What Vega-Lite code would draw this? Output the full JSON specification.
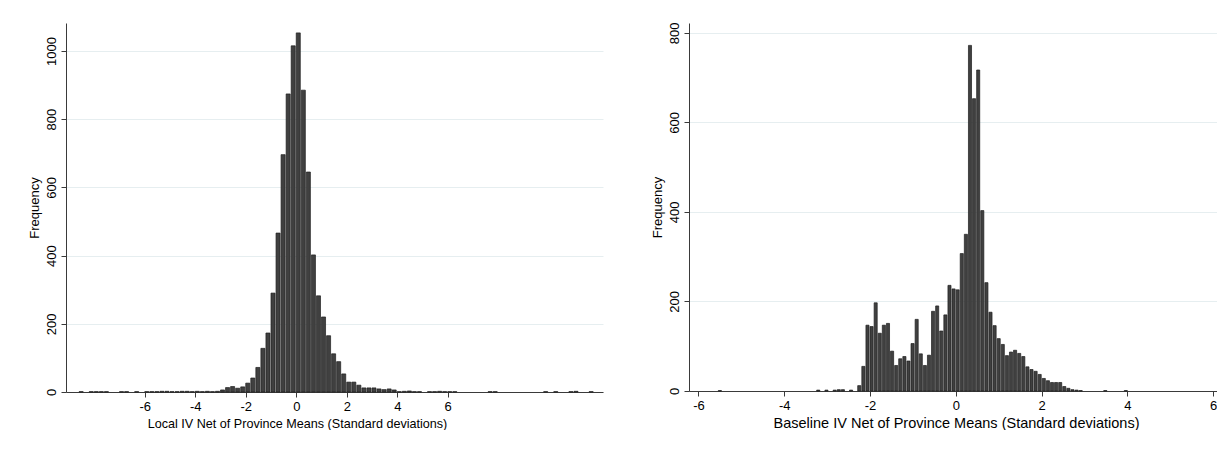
{
  "$schema": "https://vega.github.io/schema/vega-lite/v6.json",
  "background": "white",
  "padding": {"left": 28, "top": 22, "right": 0, "bottom": 0},
  "bounds": "flush",
  "spacing": 86,
  "datasets": {
    "local": [
      {"lo": -8.64, "hi": -8.44, "n": 1},
      {"lo": -8.24, "hi": -8.04, "n": 1},
      {"lo": -8.04, "hi": -7.84, "n": 1},
      {"lo": -7.84, "hi": -7.64, "n": 1},
      {"lo": -7.64, "hi": -7.44, "n": 1},
      {"lo": -7.04, "hi": -6.84, "n": 1},
      {"lo": -6.84, "hi": -6.64, "n": 1},
      {"lo": -6.44, "hi": -6.24, "n": 1},
      {"lo": -6.04, "hi": -5.84, "n": 1},
      {"lo": -5.84, "hi": -5.64, "n": 1},
      {"lo": -5.64, "hi": -5.44, "n": 1},
      {"lo": -5.44, "hi": -5.24, "n": 2},
      {"lo": -5.24, "hi": -5.04, "n": 2},
      {"lo": -5.04, "hi": -4.84, "n": 1},
      {"lo": -4.84, "hi": -4.64, "n": 1},
      {"lo": -4.64, "hi": -4.44, "n": 2},
      {"lo": -4.44, "hi": -4.24, "n": 2},
      {"lo": -4.24, "hi": -4.04, "n": 1},
      {"lo": -4.04, "hi": -3.84, "n": 2},
      {"lo": -3.84, "hi": -3.64, "n": 1},
      {"lo": -3.64, "hi": -3.44, "n": 2},
      {"lo": -3.44, "hi": -3.24, "n": 1},
      {"lo": -3.24, "hi": -3.04, "n": 2},
      {"lo": -3.04, "hi": -2.84, "n": 6},
      {"lo": -2.84, "hi": -2.64, "n": 13},
      {"lo": -2.64, "hi": -2.44, "n": 16},
      {"lo": -2.44, "hi": -2.24, "n": 11},
      {"lo": -2.24, "hi": -2.04, "n": 15},
      {"lo": -2.04, "hi": -1.84, "n": 26},
      {"lo": -1.84, "hi": -1.64, "n": 41},
      {"lo": -1.64, "hi": -1.44, "n": 72},
      {"lo": -1.44, "hi": -1.24, "n": 128},
      {"lo": -1.24, "hi": -1.04, "n": 173},
      {"lo": -1.04, "hi": -0.84, "n": 290},
      {"lo": -0.84, "hi": -0.64, "n": 466},
      {"lo": -0.64, "hi": -0.44, "n": 696},
      {"lo": -0.44, "hi": -0.24, "n": 874},
      {"lo": -0.24, "hi": -0.04, "n": 1015},
      {"lo": -0.04, "hi": 0.16, "n": 1053},
      {"lo": 0.16, "hi": 0.36, "n": 885},
      {"lo": 0.36, "hi": 0.56, "n": 645},
      {"lo": 0.56, "hi": 0.76, "n": 402},
      {"lo": 0.76, "hi": 0.96, "n": 282},
      {"lo": 0.96, "hi": 1.16, "n": 220},
      {"lo": 1.16, "hi": 1.36, "n": 165},
      {"lo": 1.36, "hi": 1.56, "n": 112},
      {"lo": 1.56, "hi": 1.76, "n": 89},
      {"lo": 1.76, "hi": 1.96, "n": 53},
      {"lo": 1.96, "hi": 2.16, "n": 29},
      {"lo": 2.16, "hi": 2.36, "n": 29},
      {"lo": 2.36, "hi": 2.56, "n": 20},
      {"lo": 2.56, "hi": 2.76, "n": 12},
      {"lo": 2.76, "hi": 2.96, "n": 12},
      {"lo": 2.96, "hi": 3.16, "n": 12},
      {"lo": 3.16, "hi": 3.36, "n": 9},
      {"lo": 3.36, "hi": 3.56, "n": 7},
      {"lo": 3.56, "hi": 3.76, "n": 9},
      {"lo": 3.76, "hi": 3.96, "n": 6},
      {"lo": 3.96, "hi": 4.16, "n": 1},
      {"lo": 4.16, "hi": 4.36, "n": 2},
      {"lo": 4.36, "hi": 4.56, "n": 3},
      {"lo": 4.56, "hi": 4.76, "n": 1},
      {"lo": 4.76, "hi": 4.96, "n": 1},
      {"lo": 5.16, "hi": 5.36, "n": 1},
      {"lo": 5.36, "hi": 5.56, "n": 1},
      {"lo": 5.56, "hi": 5.76, "n": 2},
      {"lo": 5.76, "hi": 5.96, "n": 1},
      {"lo": 5.96, "hi": 6.16, "n": 1},
      {"lo": 6.16, "hi": 6.36, "n": 1},
      {"lo": 7.56, "hi": 7.76, "n": 1},
      {"lo": 7.76, "hi": 7.96, "n": 1},
      {"lo": 9.76, "hi": 9.96, "n": 1},
      {"lo": 10.16, "hi": 10.36, "n": 1},
      {"lo": 10.76, "hi": 10.96, "n": 1},
      {"lo": 10.96, "hi": 11.16, "n": 2},
      {"lo": 11.56, "hi": 11.76, "n": 1}
    ],
    "baseline": [
      {"lo": -5.56, "hi": -5.464, "n": 1},
      {"lo": -3.266, "hi": -3.17, "n": 2},
      {"lo": -3.074, "hi": -2.979, "n": 2},
      {"lo": -2.883, "hi": -2.788, "n": 2},
      {"lo": -2.788, "hi": -2.692, "n": 3},
      {"lo": -2.692, "hi": -2.596, "n": 3},
      {"lo": -2.501, "hi": -2.405, "n": 2},
      {"lo": -2.31, "hi": -2.214, "n": 12},
      {"lo": -2.214, "hi": -2.118, "n": 55},
      {"lo": -2.118, "hi": -2.023, "n": 147},
      {"lo": -2.023, "hi": -1.927, "n": 144},
      {"lo": -1.927, "hi": -1.832, "n": 197},
      {"lo": -1.832, "hi": -1.736, "n": 129},
      {"lo": -1.736, "hi": -1.64, "n": 147},
      {"lo": -1.64, "hi": -1.545, "n": 151},
      {"lo": -1.545, "hi": -1.449, "n": 89},
      {"lo": -1.449, "hi": -1.354, "n": 57},
      {"lo": -1.354, "hi": -1.258, "n": 72},
      {"lo": -1.258, "hi": -1.162, "n": 77},
      {"lo": -1.162, "hi": -1.067, "n": 67},
      {"lo": -1.067, "hi": -0.971, "n": 106},
      {"lo": -0.971, "hi": -0.876, "n": 160},
      {"lo": -0.876, "hi": -0.78, "n": 83},
      {"lo": -0.78, "hi": -0.684, "n": 57},
      {"lo": -0.684, "hi": -0.589, "n": 80},
      {"lo": -0.589, "hi": -0.493, "n": 178},
      {"lo": -0.493, "hi": -0.398, "n": 190},
      {"lo": -0.398, "hi": -0.302, "n": 134},
      {"lo": -0.302, "hi": -0.206, "n": 170},
      {"lo": -0.206, "hi": -0.111, "n": 236},
      {"lo": -0.111, "hi": -0.015, "n": 228},
      {"lo": -0.015, "hi": 0.08, "n": 226},
      {"lo": 0.08, "hi": 0.176, "n": 307},
      {"lo": 0.176, "hi": 0.272, "n": 350},
      {"lo": 0.272, "hi": 0.367, "n": 772},
      {"lo": 0.367, "hi": 0.463, "n": 653},
      {"lo": 0.463, "hi": 0.558, "n": 717},
      {"lo": 0.558, "hi": 0.654, "n": 403},
      {"lo": 0.654, "hi": 0.75, "n": 242},
      {"lo": 0.75, "hi": 0.845, "n": 176},
      {"lo": 0.845, "hi": 0.941, "n": 146},
      {"lo": 0.941, "hi": 1.036, "n": 117},
      {"lo": 1.036, "hi": 1.132, "n": 104},
      {"lo": 1.132, "hi": 1.228, "n": 79},
      {"lo": 1.228, "hi": 1.323, "n": 87},
      {"lo": 1.323, "hi": 1.419, "n": 91},
      {"lo": 1.419, "hi": 1.514, "n": 84},
      {"lo": 1.514, "hi": 1.61, "n": 77},
      {"lo": 1.61, "hi": 1.706, "n": 54},
      {"lo": 1.706, "hi": 1.801, "n": 48},
      {"lo": 1.801, "hi": 1.897, "n": 44},
      {"lo": 1.897, "hi": 1.992, "n": 37},
      {"lo": 1.992, "hi": 2.088, "n": 28},
      {"lo": 2.088, "hi": 2.184, "n": 23},
      {"lo": 2.184, "hi": 2.279, "n": 19},
      {"lo": 2.279, "hi": 2.375, "n": 19},
      {"lo": 2.375, "hi": 2.47, "n": 19},
      {"lo": 2.47, "hi": 2.566, "n": 10},
      {"lo": 2.566, "hi": 2.662, "n": 6},
      {"lo": 2.662, "hi": 2.757, "n": 3},
      {"lo": 2.757, "hi": 2.853, "n": 2},
      {"lo": 2.853, "hi": 2.948, "n": 1},
      {"lo": 3.426, "hi": 3.522, "n": 1},
      {"lo": 3.904, "hi": 4.0, "n": 1}
    ]
  },
  "hconcat": [
    {
      "width": 537,
      "height": 369,
      "data": {"name": "local"},
      "mark": {"type": "bar", "fill": "#404040", "stroke": "#1e1e1e", "strokeWidth": 0.7},
      "encoding": {
        "x": {
          "field": "lo",
          "type": "quantitative",
          "bin": {"binned": true},
          "scale": {"domain": [-9.12, 12.15], "nice": false, "zero": false},
          "axis": {"values": [-6, -4, -2, 0, 2, 4, 6], "title": "Local IV Net of Province Means (Standard deviations)", "titleX": 231, "titleFontSize": 12.6}
        },
        "x2": {"field": "hi"},
        "y": {
          "field": "n",
          "type": "quantitative",
          "scale": {"domain": [0, 1082], "nice": false},
          "axis": {"values": [0, 200, 400, 600, 800, 1000], "title": "Frequency"}
        }
      }
    },
    {
      "width": 528,
      "height": 368,
      "data": {"name": "baseline"},
      "mark": {"type": "bar", "fill": "#404040", "stroke": "#1e1e1e", "strokeWidth": 0.7},
      "encoding": {
        "x": {
          "field": "lo",
          "type": "quantitative",
          "bin": {"binned": true},
          "scale": {"domain": [-6.22, 6.09], "nice": false, "zero": false},
          "axis": {"values": [-6, -4, -2, 0, 2, 4, 6], "title": "Baseline IV Net of Province Means (Standard deviations)", "titleX": 267, "titleFontSize": 14.5}
        },
        "x2": {"field": "hi"},
        "y": {
          "field": "n",
          "type": "quantitative",
          "scale": {"domain": [0, 822], "nice": false},
          "axis": {"values": [0, 200, 400, 600, 800], "title": "Frequency"}
        }
      }
    }
  ],
  "config": {
    "view": {"stroke": null},
    "axis": {
      "domainColor": "#3a3a3a",
      "tickColor": "#3a3a3a",
      "tickSize": 5,
      "labelFont": "Liberation Sans",
      "labelFontSize": 13,
      "labelColor": "#000000",
      "labelExpr": "datum.value < 0 ? '-' + abs(datum.value) : '' + datum.value",
      "titleFont": "Liberation Sans",
      "titleFontSize": 13,
      "titleFontWeight": "normal",
      "titleColor": "#000000",
      "gridColor": "#e6eef0",
      "gridWidth": 1
    },
    "axisX": {"grid": false, "labelPadding": 3, "titlePadding": 4},
    "axisY": {"grid": true, "labelAngle": -90, "labelAlign": "center", "labelBaseline": "alphabetic", "labelPadding": 6, "titlePadding": 4}
  }
}
